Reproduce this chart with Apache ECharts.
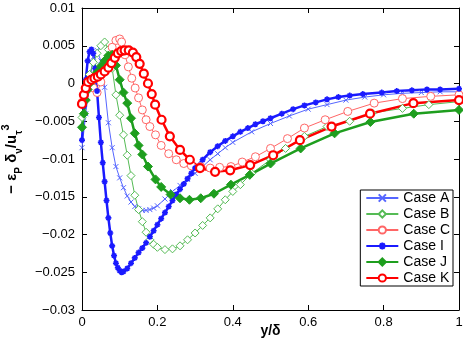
<!DOCTYPE html>
<html><head><meta charset="utf-8">
<script src="https://cdn.jsdelivr.net/npm/echarts@6/dist/echarts.min.js"></script>
<style>html,body{margin:0;padding:0;background:#fff}#c{width:463px;height:349px}</style>
</head><body><div id="c"></div>
<script>
const seriesNames = ['Case A','Case B','Case C','Case I','Case J','Case K'];
const xTicks = [0,0.2,0.4,0.6,0.8,1];
const yTicks = [-0.03,-0.025,-0.02,-0.015,-0.01,-0.005,0,0.005,0.01];

const xA = [0,0.01,0.02,0.03,0.04,0.05,0.06,0.07,0.08,0.09,0.10,0.11,0.12,0.13,0.14,0.15,0.16,0.17,0.18,0.19,0.20,0.22,0.24,0.26,0.28,0.30,0.32,0.34,0.36,0.38,0.40,0.45,0.50,0.55,0.60,0.65,0.70,0.75,0.80,0.85,0.90,0.95,1.0];
const yA = [-0.0085,-0.004,0.0,0.0035,0.0044,0.003,-0.0005,-0.0052,-0.0085,-0.011,-0.0125,-0.0138,-0.0149,-0.0157,-0.0163,-0.0166,-0.0168,-0.0168,-0.0167,-0.0165,-0.0162,-0.0153,-0.0143,-0.0135,-0.0127,-0.0119,-0.011,-0.0101,-0.0093,-0.0085,-0.0078,-0.0064,-0.0053,-0.0043,-0.0034,-0.0028,-0.0022,-0.0018,-0.0015,-0.0013,-0.0012,-0.0011,-0.0011];

const xB = [0,0.01,0.02,0.03,0.04,0.05,0.06,0.07,0.08,0.09,0.10,0.11,0.12,0.13,0.14,0.15,0.16,0.17,0.18,0.19,0.20,0.22,0.24,0.26,0.28,0.30,0.32,0.34,0.36,0.38,0.40,0.42,0.45,0.50,0.54,0.59,0.65,0.71,0.77,0.85,0.92,1.0];
const yB = [-0.0045,-0.0012,0.0012,0.0028,0.004,0.005,0.0055,0.0045,0.002,-0.0015,-0.0042,-0.0068,-0.0095,-0.0122,-0.0148,-0.0167,-0.0183,-0.0197,-0.0207,-0.0213,-0.0217,-0.022,-0.0219,-0.0215,-0.0207,-0.0198,-0.0188,-0.0178,-0.0166,-0.0154,-0.0143,-0.0134,-0.0119,-0.0101,-0.0086,-0.007,-0.0057,-0.005,-0.0039,-0.0033,-0.0028,-0.0024];

const xC = [0,0.01,0.02,0.03,0.04,0.05,0.06,0.07,0.08,0.09,0.10,0.105,0.114,0.123,0.132,0.141,0.15,0.16,0.17,0.18,0.195,0.21,0.23,0.25,0.27,0.29,0.315,0.34,0.365,0.395,0.425,0.46,0.50,0.545,0.59,0.645,0.705,0.775,0.85,0.925,1.0];
const yC = [-0.0025,-0.0008,0.0002,-0.0006,-0.0012,0.0002,0.0018,0.0034,0.0048,0.0057,0.0059,0.0055,0.0038,0.0022,0.0007,-0.0006,-0.0019,-0.0035,-0.0048,-0.0057,-0.0068,-0.0082,-0.0093,-0.0101,-0.0106,-0.0109,-0.011,-0.0112,-0.0111,-0.011,-0.0104,-0.0097,-0.0086,-0.0073,-0.0059,-0.0048,-0.0037,-0.0026,-0.002,-0.0017,-0.0015];

const xI = [0,0.005,0.01,0.015,0.02,0.025,0.03,0.035,0.04,0.045,0.05,0.055,0.06,0.065,0.07,0.075,0.08,0.085,0.09,0.095,0.10,0.105,0.11,0.12,0.13,0.14,0.15,0.16,0.17,0.18,0.19,0.20,0.21,0.22,0.23,0.24,0.25,0.26,0.27,0.28,0.29,0.30,0.32,0.34,0.36,0.38,0.40,0.42,0.44,0.46,0.48,0.50,0.53,0.56,0.59,0.62,0.65,0.68,0.71,0.745,0.795,0.835,0.875,0.915,0.95,1.0];
const yI = [-0.0075,-0.003,0.0005,0.003,0.0042,0.0045,0.004,0.002,-0.001,-0.0045,-0.0078,-0.0105,-0.013,-0.0155,-0.0178,-0.0198,-0.0215,-0.0228,-0.0238,-0.0244,-0.0248,-0.025,-0.0249,-0.0245,-0.0238,-0.0231,-0.0224,-0.0218,-0.0211,-0.0203,-0.0195,-0.0187,-0.0179,-0.0171,-0.0163,-0.0155,-0.0147,-0.014,-0.0133,-0.0126,-0.0119,-0.0112,-0.0101,-0.0091,-0.0083,-0.0076,-0.007,-0.0064,-0.0059,-0.0054,-0.005,-0.0046,-0.004,-0.0034,-0.0029,-0.0025,-0.0021,-0.0018,-0.0016,-0.0014,-0.0012,-0.001,-0.0009,-0.0008,-0.0008,-0.0007];

const xJ = [0,0.005,0.01,0.015,0.02,0.03,0.04,0.05,0.06,0.07,0.08,0.09,0.10,0.11,0.12,0.13,0.14,0.15,0.16,0.175,0.195,0.21,0.235,0.26,0.285,0.315,0.35,0.395,0.445,0.50,0.58,0.67,0.765,0.88,1.0];
const yJ = [-0.0058,-0.004,-0.0022,-0.0008,0.0,0.0008,0.0015,0.0023,0.003,0.0037,0.0038,0.0024,0.0005,-0.0012,-0.0026,-0.0046,-0.0066,-0.0082,-0.0094,-0.011,-0.0127,-0.0137,-0.0147,-0.0152,-0.0154,-0.0152,-0.0146,-0.0134,-0.0121,-0.0106,-0.0086,-0.0066,-0.0051,-0.004,-0.0035];

const xK = [0,0.005,0.01,0.016,0.025,0.033,0.042,0.05,0.06,0.07,0.078,0.087,0.095,0.104,0.113,0.124,0.135,0.144,0.153,0.164,0.175,0.185,0.194,0.211,0.233,0.26,0.286,0.313,0.353,0.393,0.446,0.507,0.578,0.662,0.764,0.879,1.0];
const yK = [-0.0027,-0.0015,-0.0006,0.0002,0.0005,0.0007,0.0009,0.0012,0.0016,0.0021,0.0027,0.0034,0.004,0.0043,0.0044,0.0044,0.0041,0.0035,0.0026,0.0013,0.0,-0.0014,-0.0028,-0.0048,-0.007,-0.0088,-0.0101,-0.0112,-0.0117,-0.0115,-0.0108,-0.0095,-0.0075,-0.0057,-0.004,-0.0026,-0.0022];

const pairs = (xs, ys) => xs.map((x, i) => [x, ys[i]]);
const FONT = 'Liberation Sans';
const fmtY = v => { const r = parseFloat(Number(v).toFixed(4)); return r === 0 ? '0' : String(r).replace('-', '\u2212'); };
const fmtX = v => String(parseFloat(Number(v).toFixed(2)));

const crossPath = 'path://M0,0L10,10M10,0L0,10';
const starPath = 'path://M5,0L5,10M0,5L10,5M1.5,1.5L8.5,8.5M8.5,1.5L1.5,8.5';

const blue = '#1a1aff', green = '#1e9e1e', red = '#ff0000';
const blueT = '#5566ff', greenT = '#55bb55', redT = '#ff6666';

function mk(name, xs, ys, color, lw, symbol, size, fill, bw) {
  return {
    name, type: 'line', data: pairs(xs, ys), symbol, symbolSize: size,
    showAllSymbol: true,
    lineStyle: { color, width: lw },
    itemStyle: { color: fill, borderColor: color, borderWidth: bw },
    emphasis: { disabled: true }
  };
}

const axisCommon = {
  type: 'value',
  axisLine: { show: true, onZero: false, lineStyle: { color: '#000', width: 1 } },
  axisTick: { show: true, inside: true, length: 5, lineStyle: { color: '#000' } },
  splitLine: { show: false }
};

const chart = echarts.init(document.getElementById('c'), null, { renderer: 'canvas' });
chart.setOption({
  animation: false,
  backgroundColor: '#fff',
  grid: { left: 82, right: 4, top: 8, bottom: 39, show: false, containLabel: false, outerBoundsMode: 'none' },
  xAxis: [
    Object.assign({}, axisCommon, {
      min: xTicks[0], max: xTicks[xTicks.length - 1], interval: 0.2, position: 'bottom',
      axisLabel: { color: '#000', fontFamily: FONT, fontSize: 13, margin: 6, formatter: fmtX },
      name: '{b|y/\u03b4}', nameLocation: 'middle', nameGap: 14, nameMoveOverlap: false,
      nameTextStyle: { rich: { b: { fontFamily: FONT, fontSize: 14, fontWeight: 'bold', color: '#000' } } }
    }),
    Object.assign({}, axisCommon, {
      min: xTicks[0], max: xTicks[xTicks.length - 1], interval: 0.2, position: 'top',
      axisLabel: { show: false }
    })
  ],
  yAxis: [
    Object.assign({}, axisCommon, {
      min: yTicks[0], max: yTicks[yTicks.length - 1], interval: 0.005, position: 'left',
      axisLabel: { color: '#000', fontFamily: FONT, fontSize: 13, margin: 7, formatter: fmtY },
      name: '{b|\u2212 \u03b5}{s|P}{b| \u03b4}{s|\u03bd}{b|/u}{s|\u03c4}{p|3}',
      nameLocation: 'middle', nameGap: 58,
      nameTextStyle: { rich: {
        b: { fontFamily: FONT, fontSize: 15, fontWeight: 'bold', color: '#000', lineHeight: 24, verticalAlign: 'middle' },
        s: { fontFamily: FONT, fontSize: 10, fontWeight: 'bold', color: '#000', lineHeight: 11, verticalAlign: 'bottom' },
        p: { fontFamily: FONT, fontSize: 11, fontWeight: 'bold', color: '#000', lineHeight: 12, verticalAlign: 'top' }
      } }
    }),
    Object.assign({}, axisCommon, {
      min: yTicks[0], max: yTicks[yTicks.length - 1], interval: 0.005, position: 'right',
      axisLabel: { show: false }
    })
  ],
  legend: {
    orient: 'vertical', right: 10, top: 190,
    data: seriesNames,
    backgroundColor: '#fff', borderColor: '#000', borderWidth: 1,
    padding: [1, 3, 1, 5], itemGap: 2, itemWidth: 32, itemHeight: 9,
    textStyle: { fontFamily: FONT, fontSize: 14, color: '#000', padding: [0, 0, 0, 0] },
    selectedMode: false
  },
  series: [
    mk(seriesNames[0], xA, yA, blueT, 1, crossPath, 5, 'none', 1),
    mk(seriesNames[1], xB, yB, greenT, 1, 'diamond', 8, '#fff', 1),
    mk(seriesNames[2], xC, yC, redT, 1, 'circle', 8, '#fff', 1),
    mk(seriesNames[3], xI, yI, blue, 2.5, starPath, 6, blue, 1.6),
    mk(seriesNames[4], xJ, yJ, green, 2.5, 'diamond', 9, green, 1),
    mk(seriesNames[5], xK, yK, red, 2.5, 'circle', 8, '#fff', 2.2)
  ]
});
</script></body></html>
